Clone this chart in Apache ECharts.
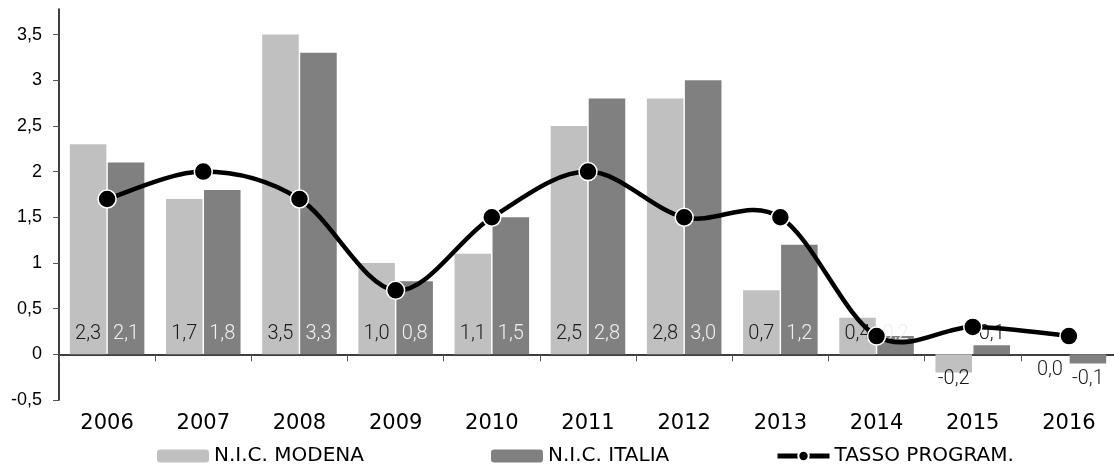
<!DOCTYPE html>
<html>
<head>
<meta charset="utf-8">
<script src="https://cdn.jsdelivr.net/npm/echarts@6/dist/echarts.min.js"></script>
<style>
html,body{margin:0;padding:0;background:#fff;}
#chart{width:1114px;height:464px;}
</style>
</head>
<body>
<div id="chart"></div>
<script>
const years = ['2006','2007','2008','2009','2010','2011','2012','2013','2014','2015','2016'];
const modena = [2.3, 1.7, 3.5, 1.0, 1.1, 2.5, 2.8, 0.7, 0.4, -0.2, 0.0];
const italia = [2.1, 1.8, 3.3, 0.8, 1.5, 2.8, 3.0, 1.2, 0.2, 0.1, -0.1];
const tasso = [1.7, 2.0, 1.7, 0.7, 1.5, 2.0, 1.5, 1.5, 0.2, 0.3, 0.2];
const yTicks = [-0.5, 0, 0.5, 1, 1.5, 2, 2.5, 3, 3.5];

const LABEL_FONT = 'Roboto, sans-serif';
const fmt = v => v.toFixed(1).replace('.', ',');

function barData(values, light) {
  return values.map(v => {
    let label;
    if (v > 0) {
      label = {position: 'insideBottom', distance: 10,
               color: light ? '#1a1a1a' : (v >= 0.2 ? '#f0f0f0' : '#1a1a1a')};
    } else if (v === 0) {
      label = {position: 'bottom', distance: 6, color: '#1a1a1a'};
    } else {
      label = {position: 'bottom', distance: 15 + v * 91.4, color: '#1a1a1a'};
    }
    return {value: v, label: label};
  });
}

// Excel-style smoothed line (Catmull-Rom -> cubic Bezier), drawn through the axes' own coord()
function renderSmooth(params, api) {
  if (params.dataIndex !== 0) return null;
  const pts = tasso.map((v, i) => api.coord([i, v]));
  const n = pts.length;
  let d = 'M' + pts[0][0] + ' ' + pts[0][1];
  for (let i = 0; i < n - 1; i++) {
    const p0 = pts[Math.max(i - 1, 0)], p1 = pts[i], p2 = pts[i + 1], p3 = pts[Math.min(i + 2, n - 1)];
    const c1x = p1[0] + (p2[0] - p0[0]) / 6, c1y = p1[1] + (p2[1] - p0[1]) / 6;
    const c2x = p2[0] - (p3[0] - p1[0]) / 6, c2y = p2[1] - (p3[1] - p1[1]) / 6;
    d += ' C' + c1x + ' ' + c1y + ' ' + c2x + ' ' + c2y + ' ' + p2[0] + ' ' + p2[1];
  }
  return {type: 'path', shape: {pathData: d}, style: {fill: 'none', stroke: '#000', lineWidth: 4.5, lineJoin: 'round'}};
}

const chart = echarts.init(document.getElementById('chart'));
const legendBase = {
  orient: 'horizontal', top: 441, itemWidth: 52, itemHeight: 13, itemGap: 6,
  textStyle: {fontFamily: '"DejaVu Sans", Verdana, sans-serif', fontSize: 20, color: '#000'},
  selectedMode: false
};
chart.setOption({
  animation: false,
  backgroundColor: '#fff',
  grid: {left: 59, right: -3, top: 9, bottom: 64, containLabel: false, outerBoundsMode: 'none'},
  legend: [
    Object.assign({}, legendBase, {left: 152, data: ['N.I.C. MODENA']}),
    Object.assign({}, legendBase, {left: 486, data: ['N.I.C. ITALIA']}),
    Object.assign({}, legendBase, {left: 770, data: [{name: 'TASSO PROGRAM.',
      lineStyle: {opacity: 1, width: 5, color: '#000'}}]})
  ],
  xAxis: {
    type: 'category',
    data: years,
    axisLine: {onZero: true, lineStyle: {color: '#000', width: 1.5}},
    axisTick: {show: true, length: 7, alignWithLabel: false, lineStyle: {color: '#555'}},
    axisLabel: {margin: 13, fontFamily: '"DejaVu Sans", Verdana, sans-serif', fontSize: 21, color: '#000'},
    splitLine: {show: false}
  },
  yAxis: {
    type: 'value',
    min: -0.5, max: 3.78,
    axisLine: {show: true, lineStyle: {color: '#000', width: 1.5}},
    axisTick: {show: true, length: 6, customValues: yTicks, lineStyle: {color: '#555'}},
    axisLabel: {customValues: yTicks, margin: 17, fontFamily: '"Liberation Sans", Arial, sans-serif',
                fontSize: 18, color: '#000', formatter: v => String(v).replace('.', ',')},
    splitLine: {show: false}
  },
  series: [
    {
      name: 'N.I.C. MODENA', type: 'bar', barWidth: '38%', barGap: '4%',
      itemStyle: {color: '#c0c0c0'},
      label: {show: true, fontFamily: LABEL_FONT, fontSize: 20, fontWeight: 300, formatter: p => fmt(p.value)},
      data: barData(modena, true), z: 2
    },
    {
      name: 'N.I.C. ITALIA', type: 'bar', barWidth: '38%', barGap: '4%',
      itemStyle: {color: '#808080'},
      label: {show: true, fontFamily: LABEL_FONT, fontSize: 20, fontWeight: 300, formatter: p => fmt(p.value)},
      data: barData(italia, false), z: 2
    },
    {
      name: 'TASSO_CURVE', type: 'custom', coordinateSystem: 'cartesian2d',
      data: tasso.map((v, i) => [i, v]), renderItem: renderSmooth, z: 4, silent: true
    },
    {
      name: 'TASSO PROGRAM.', type: 'line', data: tasso,
      symbol: 'circle', symbolSize: 18,
      lineStyle: {color: '#000', width: 4, opacity: 0},
      itemStyle: {color: '#000', borderColor: '#fff', borderWidth: 1.5},
      z: 5
    }
  ]
});
</script>
</body>
</html>
